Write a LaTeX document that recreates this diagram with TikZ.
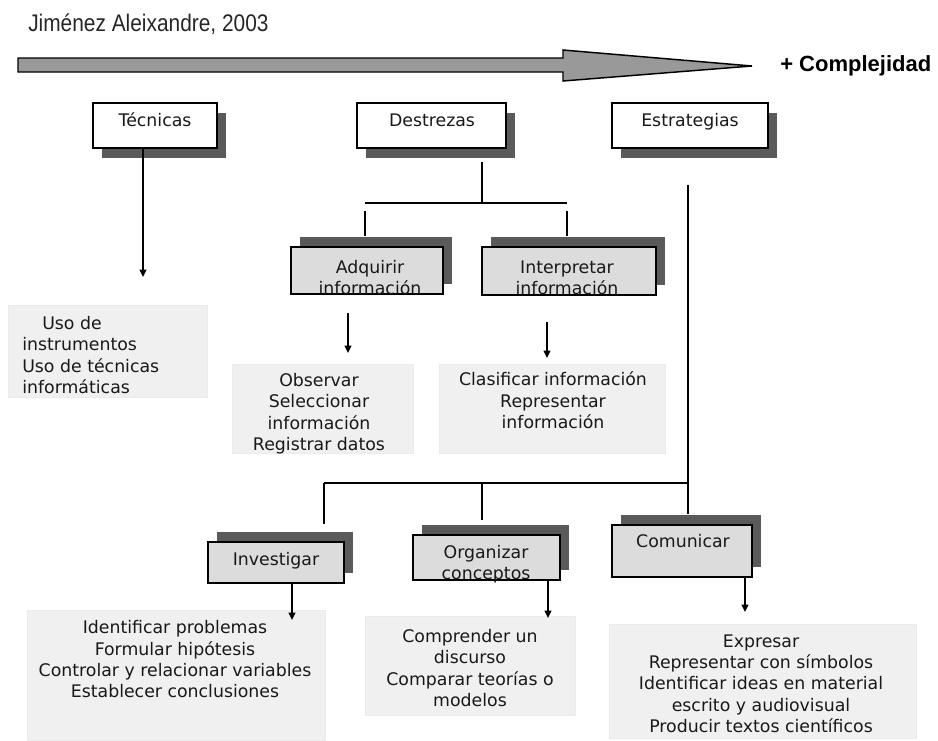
\documentclass[tikz,border=0pt]{standalone}
\usepackage{fontspec}
\setmainfont{DejaVu Sans}
\newfontfamily\titlefont[FakeStretch=0.87]{Liberation Sans}
\newfontfamily\cxfont{Liberation Sans}
\usetikzlibrary{arrows.meta,shadows}
\definecolor{shadowgray}{HTML}{5A5A5A}
\definecolor{boxgray}{HTML}{DCDCDC}
\definecolor{textbg}{HTML}{F0F0F0}
\definecolor{arrowgray}{HTML}{999999}
\begin{document}
\begin{tikzpicture}[x=0.75pt,y=-0.75pt,
  every node/.style={font=\fontsize{13}{16}\selectfont},
  box/.style={rectangle, draw=black, line width=1.5pt, inner sep=0pt},
  topbox/.style={box, fill=white, drop shadow={shadow xshift=6.75pt, shadow yshift=-7.5pt, fill=shadowgray, opacity=1}},
  subbox/.style={box, fill=boxgray, drop shadow={shadow xshift=6.75pt, shadow yshift=7.5pt, fill=shadowgray, opacity=1}},
  txtbox/.style={rectangle, fill=textbg, draw=black!8, line width=0.6pt, inner sep=0pt},
  lbl/.style={inner sep=0pt, align=center, text height=9.5pt, text depth=0pt, text=black!90},
  conn/.style={line width=1.3pt, draw=black},
  arr/.style={conn, -{Triangle[length=5.5pt,width=5pt]}}]
\useasboundingbox (0,0) rectangle (938,740);

% title and complexity arrow
\node[inner sep=0pt, anchor=base west, font=\titlefont\fontsize{18}{20}\selectfont, text=black!85] (title) at (28,31) {Jiménez Aleixandre, 2003};
\draw[fill=arrowgray, draw=black, line width=1.1pt, line join=miter]
  (18,58) -- (563,58) -- (563,50) -- (752,66) -- (563,81) -- (563,72) -- (18,72) -- cycle;
\node[inner sep=0pt, anchor=base west, font=\cxfont\bfseries\fontsize{16.5}{18}\selectfont] (complex) at (780,71) {+ Complejidad};

% top boxes
\node[topbox, minimum width=93pt, minimum height=33.75pt] (tec) at (155,125.5) {};
\node[lbl] (tecl) at (155,120) {Técnicas};
\node[topbox, minimum width=111.75pt, minimum height=33.75pt] (des) at (431.5,125.5) {};
\node[lbl] (desl) at (432,120) {Destrezas};
\node[topbox, minimum width=117pt, minimum height=33.75pt] (est) at (690,125.5) {};
\node[lbl] (estl) at (690,120) {Estrategias};

% second level boxes (multi-line labels are placed by their last line)
\node[subbox, minimum width=114pt, minimum height=35.25pt] (adq) at (367,270.5) {};
\node[lbl] (adql) at (370,288) {Adquirir\\información};
\node[subbox, minimum width=130.5pt, minimum height=36pt] (int) at (569,271) {};
\node[lbl] (intl) at (567,288) {Interpretar\\información};

\node[subbox, minimum width=102pt, minimum height=30.75pt] (inv) at (276,562.5) {};
\node[lbl] (invl) at (276,559) {Investigar};
\node[subbox, minimum width=110.25pt, minimum height=33.75pt] (org) at (486.5,557.5) {};
\node[lbl] (orgl) at (486,573) {Organizar\\conceptos};
\node[subbox, minimum width=105pt, minimum height=39pt] (com) at (682,551) {};
\node[lbl] (coml) at (683,541) {Comunicar};

% text boxes
\node[txtbox, minimum width=149.25pt, minimum height=69pt] (tecx) at (107.5,351) {};
\node[lbl, anchor=west, align=left] (tect) at (22,387) {\hspace*{15pt}Uso de\\instrumentos\\Uso de técnicas\\informáticas};
\node[txtbox, minimum width=135.75pt, minimum height=66.75pt] (adqx) at (322.5,408.5) {};
\node[lbl] (adqt) at (319,444) {Observar\\Seleccionar\\información\\Registrar datos};
\node[txtbox, minimum width=169.5pt, minimum height=66.75pt] (intx) at (552,408.5) {};
\node[lbl] (intt) at (553,422) {Clasificar información\\Representar\\información};
\node[txtbox, minimum width=223.5pt, minimum height=97.5pt] (invx) at (176,675) {};
\node[lbl] (invt) at (175,691.5) {Identificar problemas\\Formular hipótesis\\Controlar y relacionar variables\\Establecer conclusiones};
\node[txtbox, minimum width=157.5pt, minimum height=74.25pt] (orgx) at (470,665.5) {};
\node[lbl] (orgt) at (470,700) {Comprender un\\discurso\\Comparar teorías o\\modelos};
\node[txtbox, minimum width=230.25pt, minimum height=85.5pt] (comx) at (762.5,681) {};
\node[lbl] (comt) at (761,726) {Expresar\\Representar con símbolos\\Identificar ideas en material\\escrito y audiovisual\\Producir textos científicos};

% connector coordinates
\coordinate (tecend) at (143,277);
\coordinate (d1) at (482,162);
\coordinate (d2) at (482,203);
\coordinate (dl) at (365,203);
\coordinate (dr) at (567,203);
\coordinate (adqend) at (348,353);
\coordinate (intend) at (547,358);
\coordinate (e1) at (688,185);
\coordinate (b1) at (324,483);
\coordinate (b2) at (688,483);
\coordinate (bm) at (482,483);
\coordinate (invend) at (292,620);
\coordinate (orgend) at (548,618);
\coordinate (comend) at (745,612);

% connectors
\draw[arr] (tec.south -| tecend) -- (tecend);
\draw[conn] (d1) -- (d2);
\draw[conn] (dl) -- (dr);
\draw[conn] ([yshift=-6pt]dl) -- ([yshift=7.5pt]adq.north -| dl);
\draw[conn] ([yshift=-6pt]dr) -- ([yshift=7.5pt]int.north -| dr);
\draw[arr] ([yshift=30pt]adqend) -- (adqend);
\draw[arr] ([yshift=27pt]intend) -- (intend);
\draw[conn] (e1) -- ([yshift=7.5pt]com.north -| e1);
\draw[conn] (b1) -- (b2);
\draw[conn] (b1) -- ([yshift=-30.75pt]b1);
\draw[conn] (bm) -- ([yshift=-27.75pt]bm);
\draw[arr] (inv.south -| invend) -- (invend);
\draw[arr] (org.south -| orgend) -- (orgend);
\draw[arr] (com.south -| comend) -- (comend);
\end{tikzpicture}
\end{document}
